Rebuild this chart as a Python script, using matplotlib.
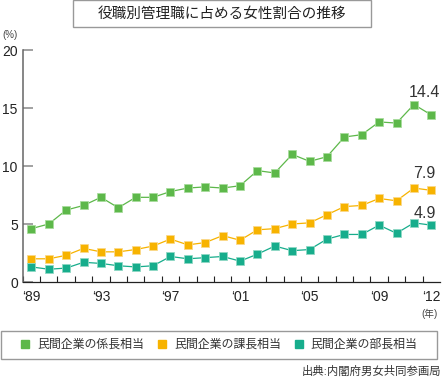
import matplotlib
matplotlib.use("Agg")
from matplotlib import pyplot as plt
from matplotlib.lines import Line2D
from matplotlib.patches import Rectangle
from matplotlib.ticker import FixedLocator

plt.rcParams["font.family"] = ["Liberation Sans", "Noto Sans CJK JP"]

years = list(range(1989, 2013))
kakari = [4.6, 5.0, 6.2, 6.6, 7.3, 6.4, 7.3, 7.3, 7.8, 8.1, 8.2, 8.1,
          8.3, 9.6, 9.4, 11.0, 10.4, 10.8, 12.5, 12.7, 13.8, 13.7, 15.3, 14.4]
kacho = [2.0, 2.0, 2.3, 2.9, 2.6, 2.6, 2.8, 3.1, 3.7, 3.2, 3.4, 4.0,
         3.6, 4.5, 4.6, 5.0, 5.1, 5.8, 6.5, 6.6, 7.2, 7.0, 8.1, 7.9]
bucho = [1.3, 1.1, 1.2, 1.7, 1.6, 1.4, 1.3, 1.4, 2.2, 2.0, 2.1, 2.2,
         1.8, 2.4, 3.1, 2.7, 2.8, 3.7, 4.1, 4.1, 4.9, 4.2, 5.1, 4.9]
names = ["民間企業の係長相当", "民間企業の課長相当", "民間企業の部長相当"]
label_years = [1989, 1993, 1997, 2001, 2005, 2009, 2012]

colors = ["#5db84a", "#f7b300", "#17ad8c"]
edges = ["#a8dc9c", "#fbd98a", "#8fd8c4"]
label_dy = [16, 12, 8.5]

W, H = 442, 379
fig = plt.figure(figsize=(W / 100, H / 100), dpi=100)
ax = fig.add_axes([22.7 / W, 1 - 282 / H, (440 - 22.7) / W, (282 - 50) / H])

for vals, c, e, dy in zip([kakari, kacho, bucho], colors, edges, label_dy):
    ax.plot(years, vals, color=c, lw=0.9, marker="s", ms=5.2,
            mfc=c, mec=e, mew=0.6, clip_on=False)
    ax.annotate(f"{vals[-1]:.1f}", xy=(years[-1], vals[-1]), xytext=(-5, dy),
                textcoords="offset points", ha="center", va="center",
                fontsize=11.5, color="#333333")

ax.set_xlim(1988.5, 2012.5)
ax.set_ylim(0, 20)
ax.set_yticks([0, 5, 10, 15, 20])
ax.set_xticks(label_years)
ax.set_xticklabels(["\u2018" + str(y)[2:] for y in label_years])
ax.xaxis.set_minor_locator(FixedLocator([y + 0.5 for y in range(1988, 2012)]))

ax.tick_params(axis="y", direction="in", length=7.5, width=1.1, color="#888888",
               labelsize=10, labelcolor="#222222", pad=3.5)
ax.tick_params(axis="x", which="major", length=0, labelsize=10,
               labelcolor="#222222", pad=6)
ax.tick_params(axis="x", which="minor", direction="in", length=4, width=0.8,
               color="#222222")

for s in ["top", "right"]:
    ax.spines[s].set_visible(False)
ax.spines["left"].set_color("#666666")
ax.spines["left"].set_linewidth(1.1)
ax.spines["bottom"].set_color("#222222")
ax.spines["bottom"].set_linewidth(0.9)

# title box
fig.add_artist(Rectangle((73 / W, 1 - 27 / H), 298 / W, 26.5 / H, transform=fig.transFigure,
                         fill=False, edgecolor="#999999", lw=1))
fig.text(222 / W, 1 - 14 / H, "役職別管理職に占める女性割合の推移", ha="center", va="center",
         fontsize=10.5, color="#222222")

fig.text(2 / W, 1 - 35 / H, "(%)", ha="left", va="center", fontsize=7, color="#444444")
fig.text(429 / W, 1 - 314 / H, "(年)", ha="center", va="center", fontsize=7, color="#444444")

# legend
fig.add_artist(Rectangle((1 / W, 1 - 359 / H), 436 / W, 28 / H, transform=fig.transFigure,
                         fill=False, edgecolor="#999999", lw=1))
handles = [Line2D([], [], linestyle="none", marker="s", ms=6, mfc=c, mec=c) for c in colors]
fig.legend(handles, names, loc="center", bbox_to_anchor=(219 / W, 1 - 345 / H),
           ncol=3, frameon=False, fontsize=8.6, handlelength=0.8, handletextpad=0.6,
           columnspacing=1.1, borderpad=0, labelcolor="#333333")

fig.text(441 / W, 1 - 371 / H, "出典:内閣府男女共同参画局", ha="right", va="center",
         fontsize=8.2, color="#333333")

fig.savefig("out.png", dpi=100)
